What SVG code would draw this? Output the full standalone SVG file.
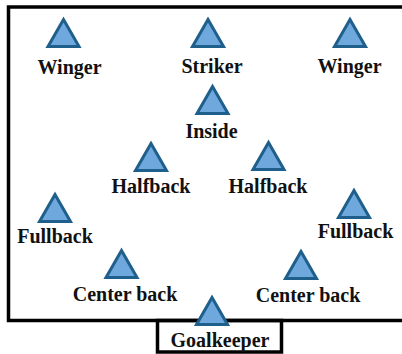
<svg xmlns="http://www.w3.org/2000/svg" xmlns:xlink="http://www.w3.org/1999/xlink" width="402" height="354" viewBox="0 0 402 354">
<style>
.lbl{font-family:"Liberation Serif","Times New Roman",serif;font-weight:bold;font-size:20px;fill:#111;text-anchor:middle}
.tri{fill:#6fa8dc;stroke:#1f5f8c;stroke-width:3;stroke-linejoin:miter}
.line{fill:none;stroke:#000;stroke-width:3.5}
</style>
<defs>
<path id="tri" class="tri" d="M0,2.5 L15.5,29.5 L-15.5,29.5 Z"/>
</defs>
<g id="field">
<path class="line" d="M410,7 H8.5 V320.5 H410"/>
<rect class="line" x="157.5" y="320.5" width="124" height="31.5" stroke-width="3"/>
</g>
<g id="connectors"/>
<g id="winger-left"><use xlink:href="#tri" x="63.5" y="17"/><text class="lbl" x="69.5" y="74">Winger</text></g>
<g id="striker"><use xlink:href="#tri" x="208" y="17"/><text class="lbl" x="212" y="73">Striker</text></g>
<g id="winger-right"><use xlink:href="#tri" x="350" y="17"/><text class="lbl" x="349.5" y="73">Winger</text></g>
<g id="inside"><use xlink:href="#tri" x="212.5" y="84"/><text class="lbl" x="211.5" y="138">Inside</text></g>
<g id="halfback-left"><use xlink:href="#tri" x="151" y="141"/><text class="lbl" x="151" y="193">Halfback</text></g>
<g id="halfback-right"><use xlink:href="#tri" x="268.5" y="140"/><text class="lbl" x="268" y="193">Halfback</text></g>
<g id="fullback-left"><use xlink:href="#tri" x="55" y="192"/><text class="lbl" x="55" y="243">Fullback</text></g>
<g id="fullback-right"><use xlink:href="#tri" x="354" y="188"/><text class="lbl" x="355.5" y="238">Fullback</text></g>
<g id="centerback-left"><use xlink:href="#tri" x="121.5" y="248"/><text class="lbl" x="125" y="301">Center back</text></g>
<g id="centerback-right"><use xlink:href="#tri" x="301" y="249"/><text class="lbl" x="308" y="302">Center back</text></g>
<g id="goalkeeper"><use xlink:href="#tri" x="212" y="295"/><text class="lbl" x="220" y="347">Goalkeeper</text></g>
</svg>
